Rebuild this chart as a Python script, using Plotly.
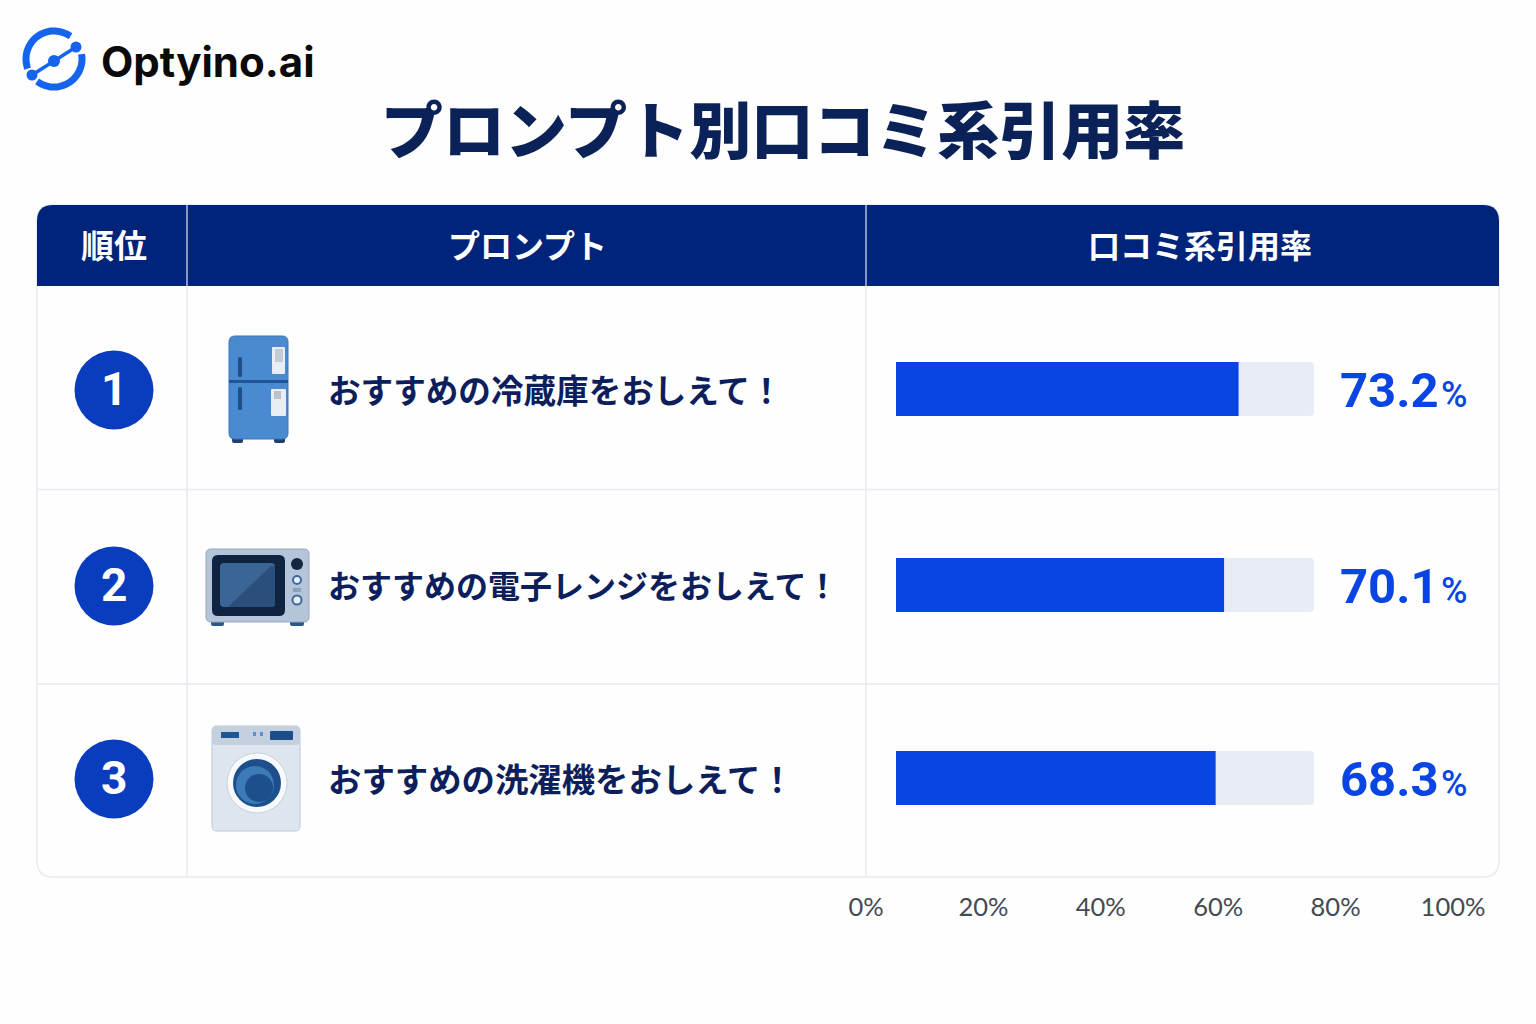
import numpy as np
import plotly.graph_objects as go

W, H = 1536, 1024

ranks = ["1", "2", "3"]
prompts = ["おすすめの冷蔵庫をおしえて！", "おすすめの電子レンジをおしえて！", "おすすめの洗濯機をおしえて！"]
rates = [73.2, 70.1, 68.3]
track_values = [89.3, 89.3, 89.3]
headers = ["順位", "プロンプト", "口コミ系引用率"]
tick_values = [0, 20, 40, 60, 80, 100]
tick_labels = ["0%", "20%", "40%", "60%", "80%", "100%"]

# row centres on the page, the rows are not quite even in the original
row_y = [389, 585, 778]
prompt_sizes = [32.6, 32, 33.4]

NAVY = "#00247a"
BLUE = "#0845e2"
CIRCLE = "#0a3dbe"
INK = "#0c1f5c"
LINE = "#e7eaf1"
CJK = "Noto Sans CJK JP"

shapes = []


def rect(x0, y0, x1, y1, fill, r=0, line=None, lw=0):
    if r:
        path = (f"M{x0+r},{y0} L{x1-r},{y0} Q{x1},{y0} {x1},{y0+r} L{x1},{y1-r} Q{x1},{y1} {x1-r},{y1} "
                f"L{x0+r},{y1} Q{x0},{y1} {x0},{y1-r} L{x0},{y0+r} Q{x0},{y0} {x0+r},{y0} Z")
        shapes.append(dict(type="path", path=path, xref="x3", yref="y", fillcolor=fill,
                           line=dict(color=line or fill, width=lw), layer="below"))
    else:
        shapes.append(dict(type="rect", x0=x0, y0=y0, x1=x1, y1=y1, xref="x3", yref="y", fillcolor=fill,
                           line=dict(color=line or fill, width=lw), layer="below"))


def circle(cx, cy, r, fill, line=None, lw=0):
    shapes.append(dict(type="circle", x0=cx-r, y0=cy-r, x1=cx+r, y1=cy+r, xref="x3", yref="y", fillcolor=fill,
                       line=dict(color=line or fill, width=lw), layer="below"))


def seg(x0, y0, x1, y1, color, width=1):
    shapes.append(dict(type="line", x0=x0, y0=y0, x1=x1, y1=y1, xref="x3", yref="y",
                       line=dict(color=color, width=width), layer="below"))


def poly(points, fill):
    path = "M" + " L".join(f"{x},{y}" for x, y in points) + " Z"
    shapes.append(dict(type="path", path=path, xref="x3", yref="y", fillcolor=fill,
                       line=dict(color=fill, width=0), layer="below"))


def arc(cx, cy, r, a0, a1, color, width):
    a = np.radians(np.linspace(a0, a1, 40))
    pts = [f"{cx+r*np.cos(t):.1f},{cy+r*np.sin(t):.1f}" for t in a]
    shapes.append(dict(type="path", path="M" + " L".join(pts), xref="x3", yref="y",
                       line=dict(color=color, width=width), layer="below"))


# table frame and header
rect(37, 205, 1499, 877, "rgba(0,0,0,0)", r=16, line=LINE, lw=1.5)
shapes.append(dict(type="path", xref="x3", yref="y", fillcolor=NAVY, line=dict(color=NAVY, width=0), layer="below",
                   path="M37,286 L37,221 Q37,205 53,205 L1483,205 Q1499,205 1499,221 L1499,286 Z"))
seg(187, 205, 187, 286, "#dfe5f2", 1.2)
seg(866, 205, 866, 286, "#dfe5f2", 1.2)
seg(187, 286, 187, 877, LINE, 1.5)
seg(866, 286, 866, 877, LINE, 1.5)
seg(37, 489.5, 1499, 489.5, LINE, 1.5)
seg(37, 684, 1499, 684, LINE, 1.5)

# logo
LOGO = "#1464f0"
arc(54, 59, 28, -10, 127, LOGO, 7)
arc(54, 59, 28, 160, 306, LOGO, 7)
seg(32, 75, 76, 47, LOGO, 3.5)
circle(32, 75, 5.5, LOGO)
circle(54, 61, 6, LOGO)
circle(76, 47, 5.5, LOGO)

# rank circles
for y in row_y:
    circle(114, y + 1, 39.5, CIRCLE)

# fridge
rect(232, 436, 243, 443, "#1f3f6e", r=2)
rect(274, 436, 285, 443, "#1f3f6e", r=2)
rect(229, 336, 288, 439, "#4a8ad0", r=6, line="#3a74bb", lw=1)
rect(229, 380, 288, 383, "#1f5596")
rect(238, 357, 242, 377, "#1f4f86", r=1.5)
rect(238, 387, 242, 410, "#1f4f86", r=1.5)
rect(272, 347, 285, 374, "#e9eef4", r=1)
rect(275, 349, 283, 362, "#c3cbd4")
rect(271, 389, 286, 416, "#e9eef4", r=1)
rect(274, 391, 281, 399, "#b9c2cc")

# microwave
rect(211, 620, 224, 626, "#2c5688", r=2)
rect(290, 620, 304, 626, "#2c5688", r=2)
rect(206, 549, 309, 622, "#b5c5d9", r=5, line="#95a8c0", lw=1)
rect(212, 555, 285, 616, "#0f2440", r=6)
rect(220, 563, 275, 607, "#3a6594", r=4)
poly([(228, 607), (271, 566), (275, 566), (275, 604), (272, 607)], "#2a4f7c")
circle(297, 564, 6, "#14263f")
circle(297, 580, 4, "#e6eef7", line="#3d6a9c", lw=2)
circle(297, 600, 4.5, "#e6eef7", line="#3d6a9c", lw=2)
rect(293, 588, 301, 592, "#8aa0bc")

# washing machine
rect(212, 726, 300, 831, "#dde5ef", r=5, line="#bcc8d8", lw=1)
rect(212, 726, 300, 745, "#c5d0de", r=4)
rect(221, 732, 239, 738, "#1f5593")
rect(270, 731, 293, 740, "#1a4f8c", r=1)
rect(253, 732, 256, 736, "#5e8fcb")
rect(260, 732, 263, 736, "#5e8fcb")
circle(257, 783, 30, "#f7f9fc", line="#c7d1de", lw=1)
circle(257, 783, 24, "#1d4f8c")
circle(255, 785, 19, "#3d7ab8")
circle(259, 788, 14, "#1d4f8c")

# annotations, all on the page-pixel axes
annotations = []


def label(x, y, text, size, color, anchor="center", weight=400, family=CJK):
    annotations.append(dict(x=x, y=y, xref="x3", yref="y", text=text, showarrow=False, xanchor=anchor,
                            yanchor="middle", font=dict(size=size, color=color, family=family, weight=weight)))


label(99, 61, "Optyino.ai", 42, "#0a0a0a", "left", 700, "Inter")
label(783, 127, "プロンプト別口コミ系引用率", 62, "#0b2259", weight=900)
label(114, 244, headers[0], 33, "white", weight=700)
label(527, 244, headers[1], 32, "white", weight=700)
label(1200, 244, headers[2], 32, "white", weight=700)

for i, y in enumerate(row_y):
    label(114, y, ranks[i], 46, "white", weight=700, family="Roboto")
    label(326, y - 1, prompts[i], prompt_sizes[i], INK, "left", weight=700)
    label(1441, y + 1, f"{rates[i]}", 49, BLUE, "right", 700, "Roboto")
    label(1439, y + 6, "%", 36, BLUE, "left", 500, "Roboto")

fig = go.Figure()

# grey tracks, then the values on top
fig.add_trace(go.Bar(x=track_values, y=row_y, orientation="h", width=54, xaxis="x", yaxis="y",
                     marker=dict(color="#e8ecf4", cornerradius=4, line=dict(width=0)), hoverinfo="skip"))
fig.add_trace(go.Bar(x=rates, y=row_y, orientation="h", width=54, xaxis="x", yaxis="y",
                     marker=dict(color=BLUE, cornerradius=4, line=dict(width=0)), hoverinfo="skip"))

# separate scale underneath, its labels do not line up with the bars in the original
fig.add_trace(go.Scatter(x=tick_values, y=[0] * len(tick_values), mode="markers", xaxis="x2", yaxis="y2",
                         marker=dict(opacity=0), hoverinfo="skip"))
# keeps the page-pixel x axis alive for the shapes
fig.add_trace(go.Scatter(x=[0, W], y=[0, H], mode="markers", xaxis="x3", yaxis="y",
                         marker=dict(opacity=0), hoverinfo="skip"))

fig.update_layout(
    width=W,
    height=H,
    margin=dict(l=0, r=0, t=0, b=0, autoexpand=False),
    paper_bgcolor="#fefefe",
    plot_bgcolor="rgba(0,0,0,0)",
    showlegend=False,
    barmode="overlay",
    shapes=shapes,
    annotations=annotations,
    xaxis=dict(domain=[896 / W, 1364 / W], range=[0, 100], visible=False, anchor="y"),
    yaxis=dict(domain=[0, 1], range=[H, 0], visible=False, anchor="x3"),
    xaxis2=dict(domain=[866 / W, 1453 / W], range=[0, 100], anchor="y2", tickmode="array",
                tickvals=tick_values, ticktext=tick_labels, showgrid=False, zeroline=False, showline=False,
                ticks="", tickfont=dict(family="Lato", size=25.5, color="#444a52")),
    yaxis2=dict(domain=[1 - 889 / H, 1 - 885 / H], range=[-1, 1], visible=False, anchor="x2"),
    xaxis3=dict(domain=[0, 1], range=[0, W], visible=False, anchor="y"),
)

fig.write_html("out.html", post_script="document.body.style.margin='0';", config=dict(displayModeBar=False))
